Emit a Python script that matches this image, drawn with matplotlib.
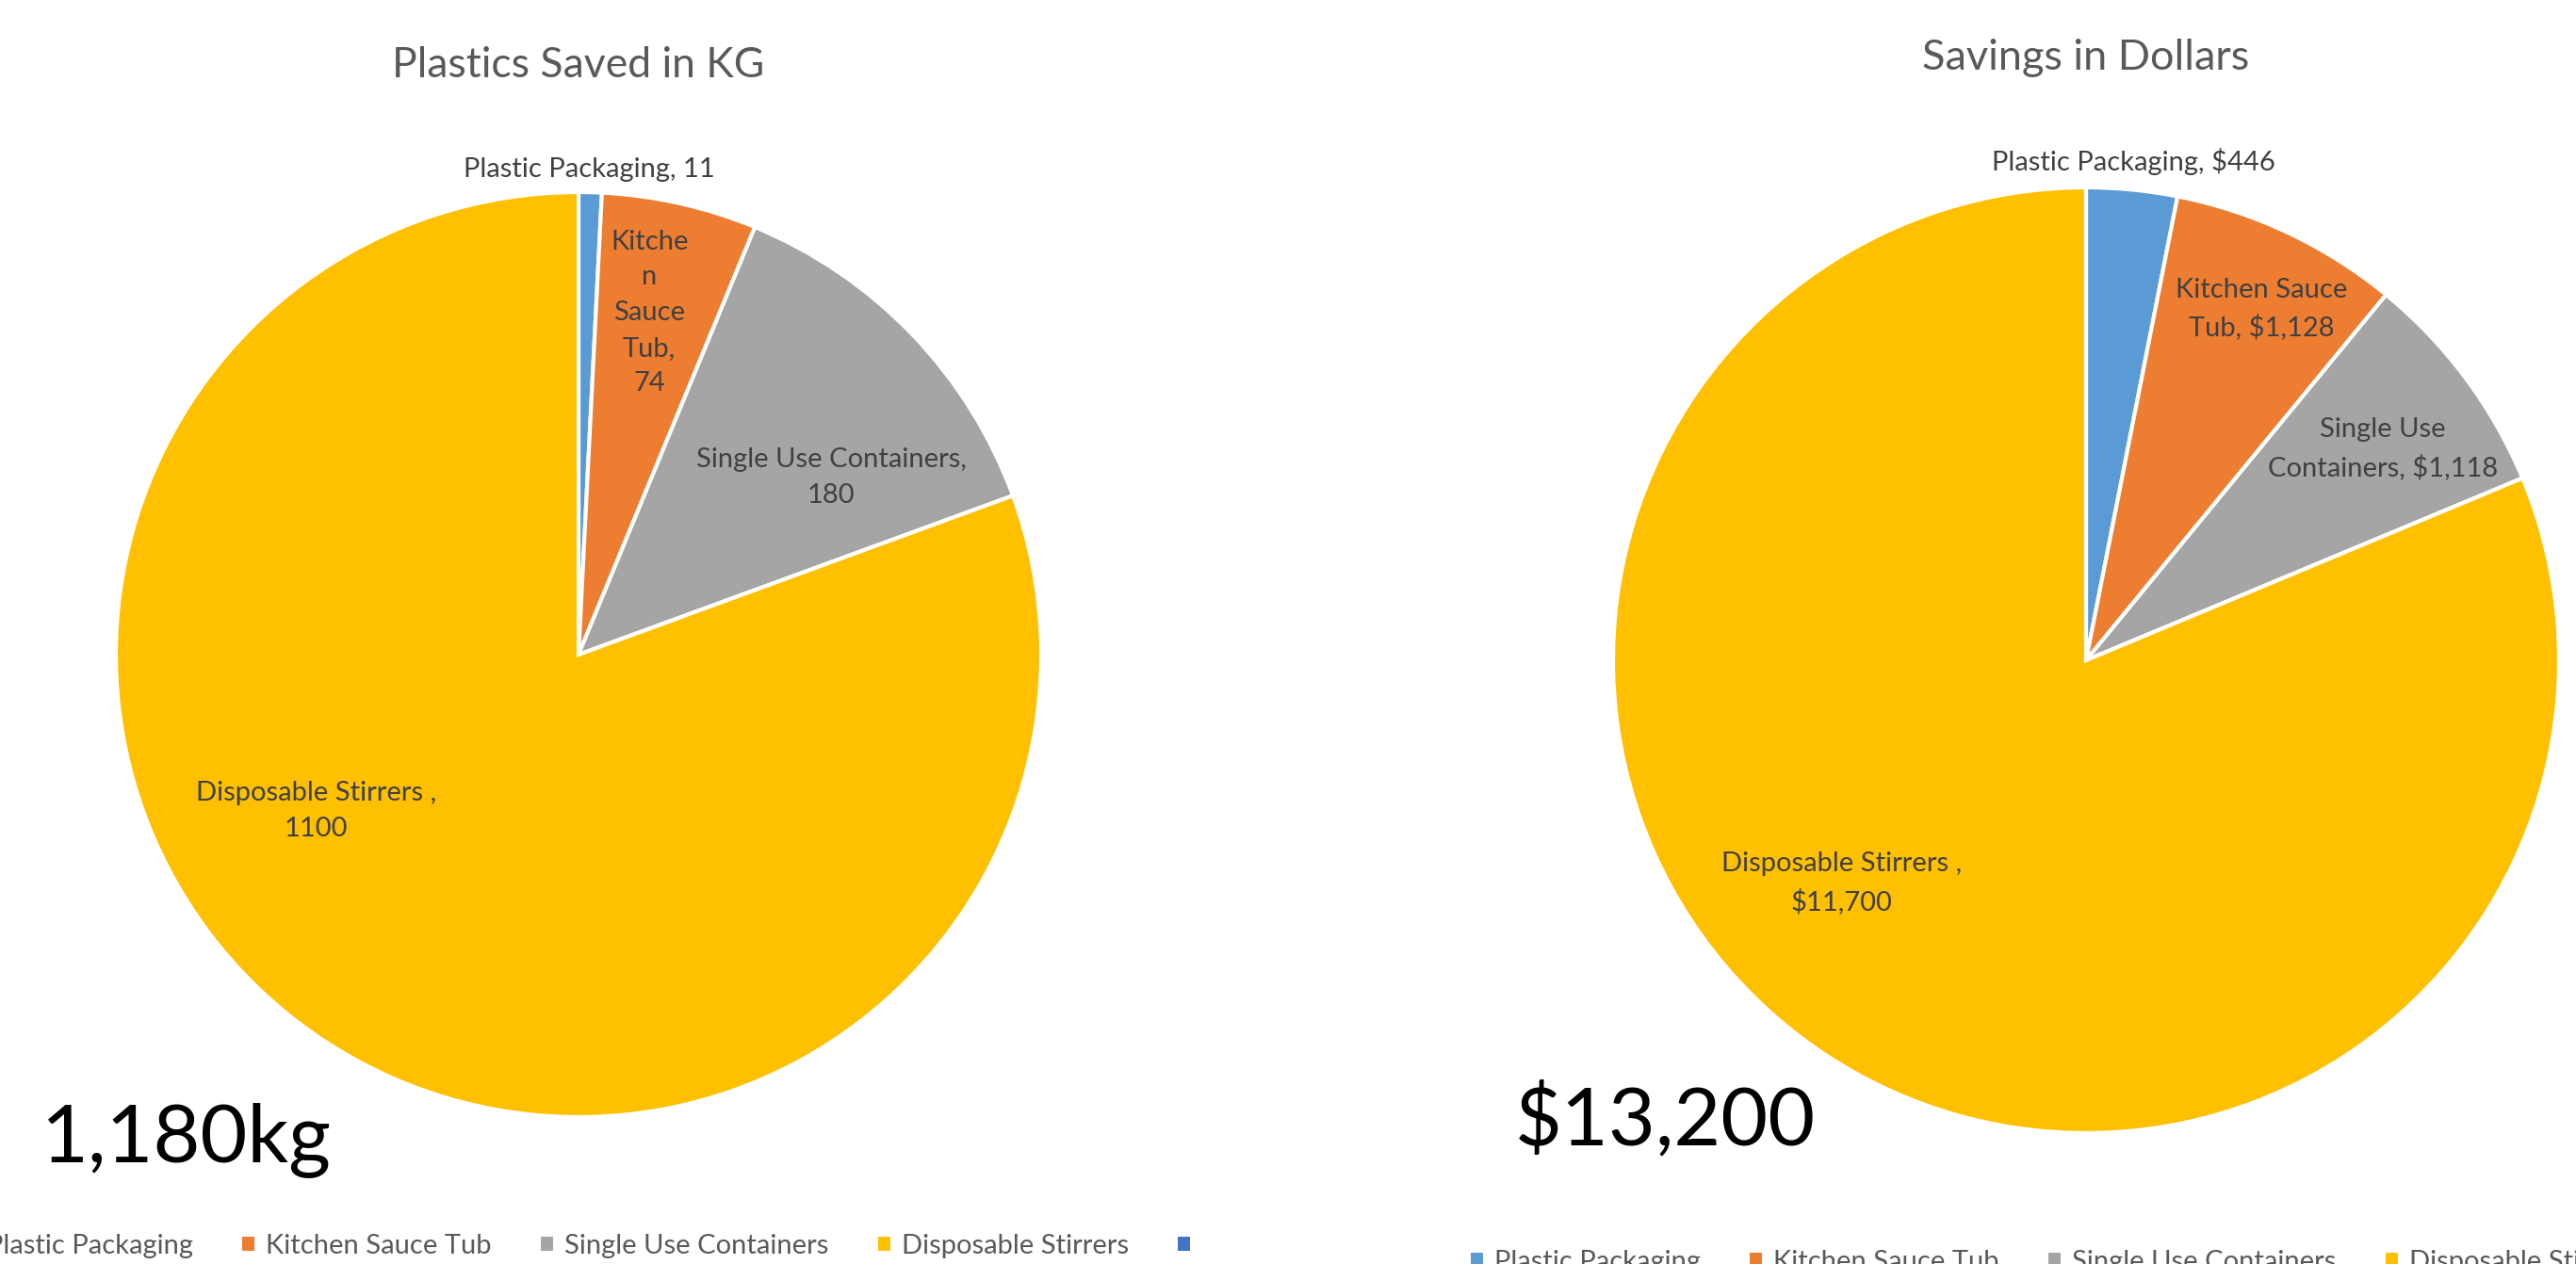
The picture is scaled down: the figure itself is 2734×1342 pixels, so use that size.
import matplotlib
matplotlib.use("Agg")
import matplotlib.pyplot as plt
from matplotlib.patches import Patch
import numpy as np

# ---- data ----
categories = ["Plastic Packaging", "Kitchen Sauce Tub", "Single Use Containers",
              "Disposable Stirrers", ""]
kg_values = [11, 74, 180, 1100]
dollar_values = [446, 1128, 1118, 11700]
kg_labels = ["Plastic Packaging, 11", "Kitche\nn\nSauce\nTub,\n74",
             "Single Use Containers,\n180", "Disposable Stirrers ,\n1100"]
dollar_labels = ["Plastic Packaging, $446", "Kitchen Sauce\nTub, $1,128",
                 "Single Use\nContainers, $1,118", "Disposable Stirrers ,\n$11,700"]
titles = ["Plastics Saved in KG", "Savings in Dollars"]
totals = ["1,180kg", "$13,200"]

# ---- style / layout ----
colors = ["#5B9BD5", "#ED7D31", "#A5A5A5", "#FFC000", "#4472C4"]
W, H, DPI = 2734, 1342, 100
FONT = ["Lato", "DejaVu Sans"]
plt.rcParams['font.family'] = FONT

# label placement: (angle from 12 o'clock clockwise in degrees, radius fraction)
kg_label_pos = [(1.3, 1.05), (11.7, 0.755), (55.0, 0.667), (239.2, 0.66)]
dollar_label_pos = [(5.4, 1.06), (26.5, 0.83), (54.5, 0.77), (227.7, 0.70)]

fig = plt.figure(figsize=(W / DPI, H / DPI), dpi=DPI)
fig.patch.set_facecolor("white")


def pie_axes(cx, cy, R):
    L = 1.1
    side = 2 * L * R
    ax = fig.add_axes([(cx - L * R) / W, (H - cy - L * R) / H, side / W, side / H])
    return ax, L


def draw_pie(cx, cy, R, values, labels, label_pos):
    ax, L = pie_axes(cx, cy, R)
    ax.pie(values, colors=colors[:len(values)], startangle=90, counterclock=False,
           radius=1.0, wedgeprops=dict(edgecolor="white", linewidth=3))
    for lab, (ang, r) in zip(labels, label_pos):
        a = np.deg2rad(ang)
        ax.text(r * np.sin(a), r * np.cos(a), lab, ha="center", va="center",
                multialignment="center", fontsize=21, color="#404040",
                linespacing=1.55)
    ax.set_xlim(-L, L)
    ax.set_ylim(-L, L)
    ax.set_aspect("equal")
    ax.axis("off")
    return ax


draw_pie(614, 695, 491, kg_values, kg_labels, kg_label_pos)
draw_pie(2214, 701, 502, dollar_values, dollar_labels, dollar_label_pos)

# titles
fig.text(614 / W, 1 - 82 / H, titles[0], ha="center", va="baseline",
         fontsize=32, color="#595959")
fig.text(2214 / W, 1 - 74 / H, titles[1], ha="center", va="baseline",
         fontsize=32.5, color="#595959")

# big totals
fig.text(44 / W, 1 - 1233 / H, totals[0], ha="left", va="baseline",
         fontsize=62, color="black")
fig.text(1608 / W, 1 - 1215 / H, totals[1], ha="left", va="baseline",
         fontsize=62, color="black")

# legends
handles = [Patch(facecolor=c, edgecolor="none") for c in colors]
for cx, cy in [(618, 1323), (2218, 1340)]:
    fig.legend(handles, categories, loc="center",
               bbox_to_anchor=(cx / W, 1 - cy / H), ncol=5, frameon=False,
               fontsize=21, labelcolor="#595959", handlelength=0.45,
               handleheight=0.45, handletextpad=0.4, columnspacing=1.8,
               borderaxespad=0, borderpad=0)

fig.savefig("out.png", dpi=DPI, facecolor="white")
